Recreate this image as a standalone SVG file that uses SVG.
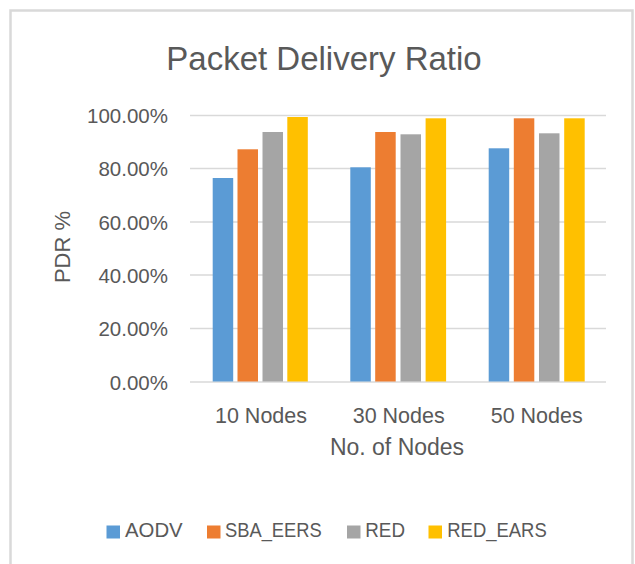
<svg xmlns="http://www.w3.org/2000/svg" width="635" height="564" viewBox="0 0 635 564">
<style>
text{font-family:"Liberation Sans",Arial,sans-serif;fill:#595959}
.grid{stroke:#D9D9D9;stroke-width:1.5}
.ytick{font-size:20.5px;text-anchor:end}
.xtick{font-size:21.5px;text-anchor:middle}
.leg{font-size:21px}
.aodv{fill:#5B9BD5}
.sba{fill:#ED7D31}
.red{fill:#A5A5A5}
.ears{fill:#FFC000}
</style>
<rect x="0" y="0" width="635" height="564" fill="#FFFFFF"/>
<path d="M10.5 570 V10.5 H632.5 V570" fill="none" stroke="#D9D9D9" stroke-width="2.5"/>
<g id="title"><text x="324" y="69.5" font-size="33" text-anchor="middle">Packet Delivery Ratio</text></g>
<g id="grid">
<line class="grid" x1="190" y1="115.5" x2="606" y2="115.5"/>
<line class="grid" x1="190" y1="168.5" x2="606" y2="168.5"/>
<line class="grid" x1="190" y1="222" x2="606" y2="222"/>
<line class="grid" x1="190" y1="275" x2="606" y2="275"/>
<line class="grid" x1="190" y1="328.5" x2="606" y2="328.5"/>
<line class="grid" x1="190" y1="382" x2="606" y2="382"/>
</g>
<g id="y-axis">
<text class="ytick" x="168" y="123">100.00%</text>
<text class="ytick" x="168" y="176">80.00%</text>
<text class="ytick" x="168" y="229.5">60.00%</text>
<text class="ytick" x="168" y="282.5">40.00%</text>
<text class="ytick" x="168" y="336">20.00%</text>
<text class="ytick" x="168" y="389.5">0.00%</text>
<text x="70" y="247" font-size="22" text-anchor="middle" transform="rotate(-90 70 247)">PDR %</text>
</g>
<g id="group-10">
<rect class="aodv" x="212.7" y="178" width="20.5" height="203.5"/>
<rect class="sba" x="237.5" y="149.3" width="20.5" height="232.2"/>
<rect class="red" x="262.5" y="132" width="20.5" height="249.5"/>
<rect class="ears" x="287.3" y="117" width="20.5" height="264.5"/>
</g>
<g id="group-30">
<rect class="aodv" x="350.3" y="167.3" width="20.5" height="214.2"/>
<rect class="sba" x="375.2" y="132" width="20.5" height="249.5"/>
<rect class="red" x="400.5" y="134.3" width="20.5" height="247.2"/>
<rect class="ears" x="425.6" y="118.3" width="20.5" height="263.2"/>
</g>
<g id="group-50">
<rect class="aodv" x="488.7" y="148.3" width="20.5" height="233.2"/>
<rect class="sba" x="513.8" y="118.3" width="20.5" height="263.2"/>
<rect class="red" x="539" y="133.3" width="20.5" height="248.2"/>
<rect class="ears" x="564.2" y="118.3" width="20.5" height="263.2"/>
</g>
<g id="x-axis">
<text class="xtick" x="261" y="422.7">10 Nodes</text>
<text class="xtick" x="398.7" y="422.7">30 Nodes</text>
<text class="xtick" x="536.7" y="422.7">50 Nodes</text>
<text x="397" y="455" font-size="23" text-anchor="middle">No. of Nodes</text>
</g>
<g id="legend">
<rect class="aodv" x="106.5" y="525.5" width="13.5" height="13"/>
<text class="leg" x="125" y="537.3" textLength="57.7" lengthAdjust="spacingAndGlyphs">AODV</text>
<rect class="sba" x="207" y="525.5" width="13.5" height="13"/>
<text class="leg" x="225" y="537.3" textLength="96.7" lengthAdjust="spacingAndGlyphs">SBA_EERS</text>
<rect class="red" x="347" y="525.5" width="13.5" height="13"/>
<text class="leg" x="365.3" y="537.3" textLength="39.7" lengthAdjust="spacingAndGlyphs">RED</text>
<rect class="ears" x="428.5" y="525.5" width="13.5" height="13"/>
<text class="leg" x="447.3" y="537.3" textLength="99.4" lengthAdjust="spacingAndGlyphs">RED_EARS</text>
</g>
</svg>
